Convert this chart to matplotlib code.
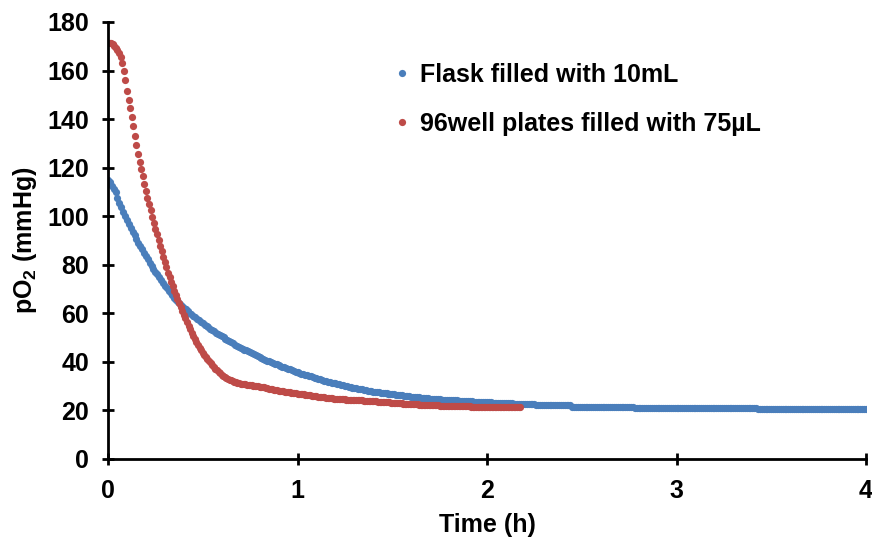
import numpy as np
import matplotlib
matplotlib.use("Agg")
import matplotlib.pyplot as plt

# === Data (pO2 in mmHg) ===
# Flask filled with 10mL : one reading every 0.01 h
dt_flask = 0.01
po2_flask = [
    115.0, 114.0, 112.6, 111.2, 109.8, 107.5, 105.5, 103.6, 101.8, 100.0,
    98.3, 96.7, 95.1, 93.6, 92.1, 90.6, 89.1, 87.7, 86.3, 84.9,
    83.5, 82.2, 80.9, 79.6, 78.4, 77.2, 76.0, 74.8, 73.6, 72.5,
    71.4, 70.4, 69.4, 68.4, 67.4, 66.5, 65.6, 64.8, 64.0, 63.2,
    62.4, 61.7, 61.0, 60.3, 59.6, 58.9, 58.3, 57.7, 57.1, 56.5,
    55.9, 55.3, 54.7, 54.2, 53.6, 53.1, 52.6, 52.1, 51.6, 51.1,
    50.6, 50.1, 49.6, 49.1, 48.6, 48.1, 47.6, 47.1, 46.7, 46.3,
    45.9, 45.5, 45.1, 44.7, 44.3, 43.9, 43.5, 43.1, 42.7, 42.3,
    42.0, 41.6, 41.2, 40.9, 40.5, 40.2, 39.9, 39.6, 39.3, 39.0,
    38.7, 38.4, 38.1, 37.8, 37.5, 37.2, 36.9, 36.6, 36.3, 36.0,
    35.8, 35.5, 35.2, 35.0, 34.7, 34.5, 34.2, 34.0, 33.7, 33.5,
    33.2, 33.0, 32.8, 32.5, 32.3, 32.1, 31.9, 31.7, 31.5, 31.3,
    31.1, 30.9, 30.7, 30.5, 30.3, 30.1, 29.9, 29.8, 29.6, 29.4,
    29.3, 29.1, 29.0, 28.8, 28.7, 28.5, 28.4, 28.2, 28.1, 28.0,
    27.8, 27.7, 27.6, 27.5, 27.3, 27.2, 27.1, 27.0, 26.9, 26.8,
    26.7, 26.6, 26.5, 26.4, 26.3, 26.2, 26.1, 26.0, 25.9, 25.8,
    25.7, 25.6, 25.5, 25.5, 25.4, 25.3, 25.2, 25.2, 25.1, 25.0,
    24.9, 24.9, 24.8, 24.7, 24.7, 24.6, 24.5, 24.5, 24.4, 24.4,
    24.3, 24.2, 24.2, 24.1, 24.1, 24.0, 24.0, 23.9, 23.9, 23.8,
    23.8, 23.7, 23.7, 23.6, 23.6, 23.5, 23.5, 23.5, 23.4, 23.4,
    23.3, 23.3, 23.3, 23.2, 23.2, 23.2, 23.1, 23.1, 23.0, 23.0,
    23.0, 22.9, 22.9, 22.9, 22.8, 22.8, 22.8, 22.7, 22.7, 22.7,
    22.6, 22.6, 22.6, 22.5, 22.5, 22.5, 22.4, 22.4, 22.4, 22.4,
    22.3, 22.3, 22.3, 22.3, 22.3, 22.2, 22.2, 22.2, 22.2, 22.2,
    22.2, 22.2, 22.2, 22.2, 22.2,
] + [21.6] * 33 + [21.0] * 65 + [20.4] * 58

# 96well plates filled with 75uL : one reading every 30 s
dt_plate = 1 / 120
po2_plate = [
    171.5, 171.5, 171.2, 170.8, 170.2, 169.4, 168.5, 167.4, 165.6, 163.0,
    160.0, 156.0, 151.6, 148.0, 144.4, 140.8, 137.0, 133.2, 129.4, 125.8,
    122.5, 119.4, 116.4, 113.4, 110.5, 107.7, 105.0, 102.4, 99.8, 97.3,
    94.9, 92.5, 90.1, 87.8, 85.5, 83.2, 81.0, 78.9, 76.8, 74.8,
    72.9, 71.1, 69.3, 67.6, 65.9, 64.2, 62.6, 61.0, 59.5, 57.9,
    56.4, 54.9, 53.4, 52.0, 50.7, 49.4, 48.2, 47.0, 45.9, 44.8,
    43.8, 42.8, 41.9, 41.0, 40.2, 39.4, 38.6, 37.9, 37.2, 36.6,
    36.0, 35.4, 34.8, 34.3, 33.9, 33.5, 33.1, 32.7, 32.4, 32.1,
    31.8, 31.6, 31.4, 31.2, 31.0, 30.9, 30.8, 30.7, 30.6, 30.5,
    30.4, 30.3, 30.2, 30.1, 30.0, 29.9, 29.8, 29.7, 29.6, 29.5,
    29.3, 29.2, 29.0, 28.9, 28.7, 28.6, 28.4, 28.3, 28.2, 28.1,
    28.0, 27.9, 27.8, 27.6, 27.5, 27.4, 27.3, 27.2, 27.1, 27.0,
    26.9, 26.8, 26.7, 26.6, 26.6, 26.5, 26.4, 26.3, 26.2, 26.1,
    26.0, 25.9, 25.8, 25.7, 25.6, 25.6, 25.5, 25.4, 25.3, 25.2,
    25.2, 25.1, 25.0, 24.9, 24.9, 24.8, 24.8, 24.7, 24.7, 24.6,
    24.6, 24.5, 24.5, 24.4, 24.4, 24.3, 24.3, 24.2, 24.2, 24.2,
    24.1, 24.1, 24.0, 24.0, 24.0, 23.9, 23.9, 23.8, 23.8, 23.7,
    23.7, 23.6, 23.6, 23.5, 23.5, 23.4, 23.4, 23.3, 23.3, 23.2,
    23.2, 23.1, 23.1, 23.0, 23.0, 22.9, 22.9, 22.8, 22.8, 22.7,
    22.7, 22.6, 22.6, 22.6, 22.5, 22.5, 22.5, 22.4, 22.4, 22.4,
    22.3, 22.3, 22.3, 22.2, 22.2, 22.2, 22.2, 22.1, 22.1, 22.1,
    22.0, 22.0, 22.0, 22.0, 21.9, 21.9, 21.9, 21.9, 21.9, 21.8,
    21.8, 21.8, 21.8, 21.8, 21.7, 21.7, 21.7, 21.7, 21.7, 21.7,
    21.6, 21.6, 21.6, 21.6, 21.6, 21.6, 21.5, 21.5, 21.5, 21.5,
    21.5, 21.5, 21.5, 21.5, 21.5, 21.4, 21.4, 21.4, 21.4, 21.4,
    21.4, 21.4, 21.4, 21.4, 21.4, 21.4, 21.4, 21.4, 21.4, 21.4,
    21.4, 21.4,
]

labels = ["Flask filled with 10mL", "96well plates filled with 75\u00b5L"]
colors = ["#4a7ebb", "#be4b48"]
x_ticks = [0, 1, 2, 3, 4]
y_ticks = list(range(0, 181, 20))

t_flask = np.arange(len(po2_flask)) * dt_flask
t_plate = np.arange(len(po2_plate)) * dt_plate

# === Style ===
plt.rcParams["font.family"] = ["Liberation Sans", "DejaVu Sans"]
plt.rcParams["font.weight"] = "bold"
plt.rcParams["mathtext.fontset"] = "custom"
plt.rcParams["mathtext.rm"] = "Liberation Sans:bold"
plt.rcParams["mathtext.it"] = "Liberation Sans:bold"
plt.rcParams["mathtext.bf"] = "Liberation Sans:bold"

fig = plt.figure(figsize=(8.72, 5.43), dpi=100)
ax = fig.add_axes([108 / 872, 1 - 459 / 543, 758 / 872, 437 / 543])

ax.plot(t_flask, po2_flask, "o", ms=5.2, mec="none", color=colors[0], label=labels[0])
ax.plot(t_plate, po2_plate, "o", ms=5.2, mec="none", color=colors[1], label=labels[1])

ax.set_xlim(0, 4)
ax.set_ylim(0, 180)
ax.set_xticks(x_ticks)
ax.set_yticks(y_ticks)
for s in ["top", "right"]:
    ax.spines[s].set_visible(False)
for s in ["left", "bottom"]:
    ax.spines[s].set_linewidth(2.0)
ax.tick_params(direction="inout", length=9, width=2.0, labelsize=18)
ax.tick_params(axis="y", pad=9)
ax.tick_params(axis="x", pad=10)
for lab in ax.get_xticklabels() + ax.get_yticklabels():
    lab.set_fontweight("bold")

ax.set_xlabel("Time (h)", fontsize=18, fontweight="bold", labelpad=7)
ax.set_ylabel(r"pO$_{2}$ (mmHg)", fontsize=18, fontweight="bold", labelpad=6)

leg = ax.legend(loc="upper left", bbox_to_anchor=(0.365, 0.93), frameon=False,
                fontsize=18, markerscale=1.0, handlelength=0.6, handletextpad=0.4,
                labelspacing=1.0, borderaxespad=0)
for txt in leg.get_texts():
    txt.set_fontweight("bold")

fig.savefig("out.png", dpi=100)
